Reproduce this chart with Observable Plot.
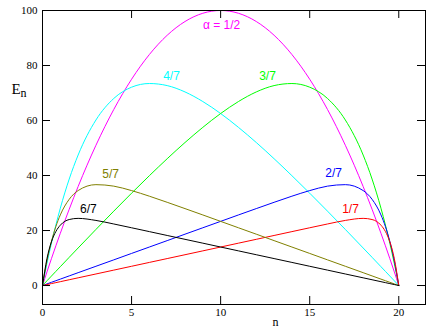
<!DOCTYPE html>
<html>
<head>
<meta charset="utf-8">
<script src="https://cdn.jsdelivr.net/npm/d3@7"></script>
<script src="https://cdn.jsdelivr.net/npm/@observablehq/plot@0.6"></script>
<style>
  html, body { margin: 0; padding: 0; background: #fff; }
  #chart svg { display: block; background: #fff; }
</style>
</head>
<body>
<div id="chart"></div>
<script>
// sample positions n
const nVals = [0, 0.25, 0.5, 0.75, 1, 1.5, 2, 3, 4, 5, 6, 7, 8, 9, 10, 11, 12, 13, 14, 15, 16, 17, 18, 18.5, 19, 19.25, 19.5, 19.75, 20];

// E_n for each alpha
const eHalf = [0, 4.94, 9.75, 14.44, 19, 27.75, 36, 51, 64, 75, 84, 91, 96, 99, 100, 99, 96, 91, 84, 75, 64, 51, 36, 27.75, 19, 14.44, 9.75, 4.94, 0];
const e1of7 = [0, 0.35, 0.7, 1.05, 1.4, 2.1, 2.8, 4.2, 5.6, 7.0, 8.4, 9.8, 11.2, 12.6, 14.0, 15.4, 16.8, 18.2, 19.6, 21.0, 22.38, 23.67, 24.42, 24.0, 21.93, 19.64, 15.87, 9.76, 0];
const e6of7 = [0, 9.76, 15.87, 19.64, 21.93, 24.0, 24.42, 23.67, 22.38, 21.0, 19.6, 18.2, 16.8, 15.4, 14.0, 12.6, 11.2, 9.8, 8.4, 7.0, 5.6, 4.2, 2.8, 2.1, 1.4, 1.05, 0.7, 0.35, 0];
const e2of7 = [0, 0.58, 1.17, 1.75, 2.33, 3.5, 4.67, 7.0, 9.33, 11.67, 14.0, 16.33, 18.67, 21.0, 23.33, 25.66, 27.97, 30.26, 32.48, 34.52, 36.14, 36.68, 34.53, 31.36, 25.67, 21.44, 15.99, 8.97, 0];
const e5of7 = [0, 8.97, 15.99, 21.44, 25.67, 31.36, 34.53, 36.68, 36.14, 34.52, 32.48, 30.26, 27.97, 25.66, 23.33, 21.0, 18.67, 16.33, 14.0, 11.67, 9.33, 7.0, 4.67, 3.5, 2.33, 1.75, 1.17, 0.58, 0];
const e3of7 = [0, 1.72, 3.43, 5.14, 6.85, 10.26, 13.65, 20.39, 27.04, 33.57, 39.94, 46.11, 52.00, 57.51, 62.54, 66.90, 70.39, 72.70, 73.45, 72.12, 68.01, 60.19, 47.45, 38.72, 28.11, 22.01, 15.32, 8.00, 0];
const e4of7 = [0, 8.00, 15.32, 22.01, 28.11, 38.72, 47.45, 60.19, 68.01, 72.12, 73.45, 72.70, 70.39, 66.90, 62.54, 57.51, 52.00, 46.11, 39.94, 33.57, 27.04, 20.39, 13.65, 10.26, 6.85, 5.14, 3.43, 1.72, 0];

const seriesVals   = [eHalf, e4of7, e3of7, e2of7, e1of7, e5of7, e6of7];
const seriesColors = ["#ff00ff", "#00ffff", "#00ff00", "#0000ff", "#ff0000", "#808000", "#000000"];

// curve labels
const labelText  = ["α = 1/2", "4/7", "3/7", "2/7", "1/7", "5/7", "6/7"];
const labelN     = [10.05, 7.24, 12.63, 16.34, 17.29, 3.82, 2.58];
const labelE     = [94.6, 76.1, 76.1, 40.8, 27.7, 40.4, 27.7];
const labelColor = ["#ff00ff", "#00ffff", "#00ff00", "#0000ff", "#ff0000", "#808000", "#000000"];

// ticks
const xTicks = [0, 5, 10, 15, 20];
const yTicks = [0, 20, 40, 60, 80, 100];

const W = 437, H = 334;
const mL = 42, mR = 12, mT = 10, mB = 30;
const innerW = W - mL - mR, innerH = H - mT - mB;
const serif = "'Liberation Serif', 'DejaVu Serif', serif";
const sans = "'Liberation Sans', Arial, sans-serif";

const lineMarks = seriesVals.map((vals, k) =>
  Plot.line(nVals, {x: d => d, y: (d, i) => vals[i], stroke: seriesColors[k], strokeWidth: 1, curve: "monotone-x"})
);

const chart = Plot.plot({
  width: W,
  height: H,
  marginLeft: mL,
  marginRight: mR,
  marginTop: mT,
  marginBottom: mB,
  style: {background: "#fff", overflow: "visible"},
  x: {domain: [0, 21.5], axis: null},
  y: {domain: [-6.9, 100], axis: null},
  marks: [
    ...lineMarks,
    Plot.frame({stroke: "#000", strokeWidth: 1}),
    // inward ticks
    Plot.tickX(xTicks, {x: d => d, stroke: "#000", insetTop: innerH - 8}),
    Plot.tickX(xTicks, {x: d => d, stroke: "#000", insetBottom: innerH - 8}),
    Plot.tickY(yTicks, {y: d => d, stroke: "#000", insetRight: innerW - 8}),
    Plot.tickY(yTicks, {y: d => d, stroke: "#000", insetLeft: innerW - 8}),
    Plot.axisX({ticks: xTicks, tickSize: 0, tickPadding: 4, label: null, fontFamily: serif, fontSize: 11, fill: "#000"}),
    Plot.axisY({ticks: yTicks, tickSize: 0, tickPadding: 5, label: null, fontFamily: serif, fontSize: 11, fill: "#000"}),
    // axis titles
    Plot.text(["E"], {text: d => d, frameAnchor: "top-left", dx: -31, dy: 79, textAnchor: "start", lineAnchor: "middle", fontFamily: serif, fontSize: 15, fill: "#000"}),
    Plot.text(["n"], {text: d => d, frameAnchor: "top-left", dx: -22, dy: 83, textAnchor: "start", lineAnchor: "middle", fontFamily: serif, fontSize: 12, fill: "#000"}),
    Plot.text(["n"], {text: d => d, frameAnchor: "bottom-left", dx: 233, dy: 18, textAnchor: "middle", lineAnchor: "middle", fontFamily: serif, fontSize: 12, fill: "#000"}),
    // curve labels
    Plot.text(labelText, {x: (d, i) => labelN[i], y: (d, i) => labelE[i], text: d => d, fill: (d, i) => labelColor[i], fontFamily: sans, fontSize: 12, textAnchor: "middle", lineAnchor: "middle"})
  ]
});

document.getElementById("chart").appendChild(chart);
</script>
</body>
</html>
